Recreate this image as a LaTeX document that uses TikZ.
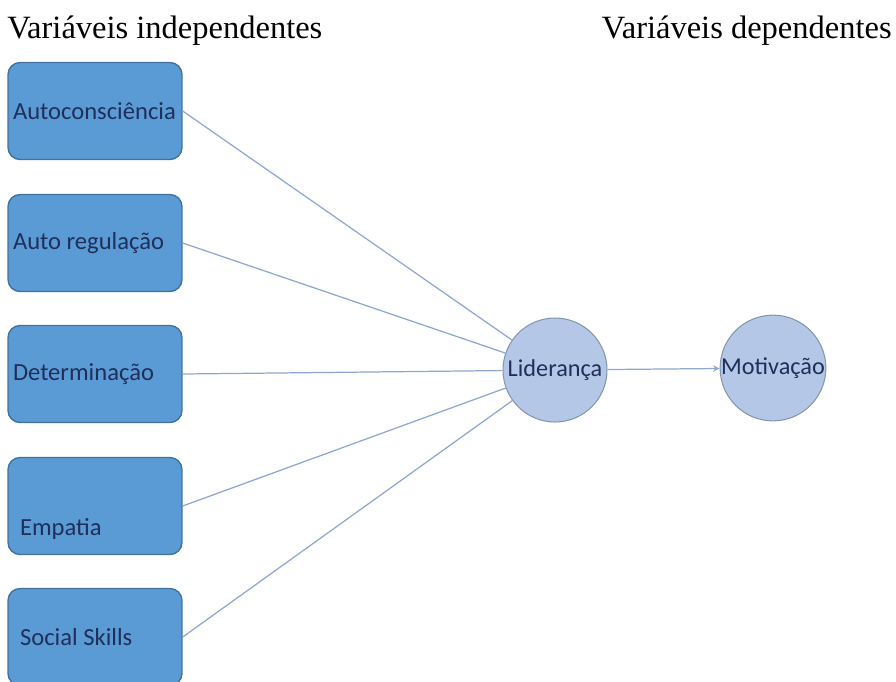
\documentclass[tikz,border=0pt]{standalone}
\usepackage{fontspec}
\setmainfont{Liberation Serif}
\newfontfamily\calibri{Carlito}
\usetikzlibrary{positioning}

\definecolor{caixaAzul}{HTML}{5B9BD5}
\definecolor{caixaBorda}{HTML}{41719C}
\definecolor{circAzul}{HTML}{B4C7E7}
\definecolor{circBorda}{HTML}{8497B0}
\definecolor{linhaAzul}{HTML}{8EA6D2}
\definecolor{textoEscuro}{HTML}{1F2F5A}

\begin{document}
\begin{tikzpicture}[>=stealth, x=0.02cm, y=-0.02cm]
			
			% Estilos das caixas, dos círculos e das ligações
			\tikzset{
				varBox/.style={draw=caixaBorda, fill=caixaAzul, rounded corners=0.24cm, line width=0.8pt,
					minimum width=3.48cm, minimum height=1.94cm, inner xsep=0.1cm,
					text width=3.28cm, align=flush left, text=textoEscuro, font=\calibri\fontsize{14}{16}\selectfont},
				varCirc/.style={circle, draw=circBorda, fill=circAzul, line width=0.6pt,
					minimum size=2.08cm, inner sep=0pt, text=textoEscuro, font=\calibri\fontsize{13.8}{16}\selectfont},
				linkLine/.style={linhaAzul, line width=0.7pt}
			}
			
			% Área do desenho (896 x 681)
			\clip (0,0) rectangle (896,681);
			\useasboundingbox (0,0) rectangle (896,681);
			
			% Títulos das colunas
			\node[anchor=base west, inner sep=0pt, font=\fontsize{18.5}{22}\selectfont] (tIndep) at (7,38) {Variáveis independentes};
			\node[anchor=base east, inner sep=0pt, font=\fontsize{18.5}{22}\selectfont] (tDep) at (892,38) {Variáveis dependentes};
			
			% Variáveis independentes (caixas à esquerda)
			\node[varBox] (autoc) at (95,111) {Autoconsciência};
			\node[varBox] (autor) at (95,243) {Auto regulação};
			\node[varBox] (deter) at (95,374) {Determinação};
			\node[varBox, text height=1.26cm, text depth=0.1cm] (empat) at (95,506) {\hspace*{4pt}Empatia};
			\node[varBox] (socia) at (95,637) {\hspace*{4pt}Social Skills};
			
			% Liderança e Motivação
			\node[varCirc] (lider) at (555,370) {Liderança};
			\node[varCirc] (motiv) at (773,368) {Motivação};
			
			% Ligações das caixas até a Liderança
			\foreach \b in {autoc,autor,deter,empat,socia} {
				\draw[linkLine] (\b.east) -- (lider);
			}
			
			% Seta da Liderança para a Motivação
			\draw[linkLine, ->] (lider) -- (motiv);
			
		\end{tikzpicture}
\end{document}
